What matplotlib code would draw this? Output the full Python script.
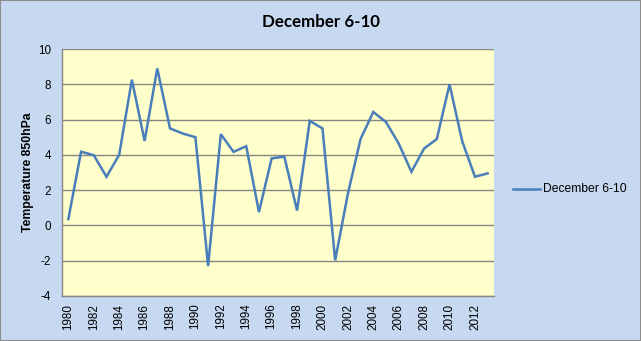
import matplotlib
matplotlib.use("Agg")
import matplotlib.pyplot as plt
from matplotlib.patches import Rectangle

years = list(range(1980, 2014))
temps = [0.36, 4.18, 3.98, 2.76, 4.0, 8.26, 4.79, 8.9, 5.5, 5.21,
         5.0, -2.3, 5.17, 4.17, 4.49, 0.76, 3.8, 3.9, 0.84, 5.92,
         5.5, -1.98, 1.8, 4.9, 6.43, 5.86, 4.64, 3.04, 4.36, 4.9,
         8.0, 4.77, 2.76, 2.95]
series_name = "December 6-10"
title = "December 6-10"
ylabel = "Temperature 850hPa"
yticks = [-4, -2, 0, 2, 4, 6, 8, 10]

W, H = 641, 341
fig = plt.figure(figsize=(W / 100, H / 100), dpi=100)
fig.patch.set_facecolor("#C6D9F1")
fig.patches.append(Rectangle((0, 0), 1, 1, transform=fig.transFigure,
                             fill=False, edgecolor="#8C8C8C", linewidth=1.5))

left, right, top, bottom = 62, 494, 49, 296
ax = fig.add_axes([left / W, 1 - bottom / H, (right - left) / W, (bottom - top) / H])
ax.set_facecolor("#FFFFCC")

x = list(range(len(years)))
ax.plot(x, temps, color="#4A7EBB", linewidth=1.8, label=series_name,
        solid_joinstyle="miter")

ax.set_xlim(-0.5, len(years) - 0.5)
ax.set_ylim(-4, 10)
ax.set_yticks(yticks)
ax.set_yticklabels([str(v) for v in yticks], fontsize=8.4, family="Liberation Sans")
ax.set_xticks(x[::2])
ax.set_xticklabels([str(y) for y in years[::2]], rotation=90, fontsize=8.4,
                   family="Liberation Sans", va="top")
ax.tick_params(axis="y", length=0, pad=8)
ax.tick_params(axis="x", length=0, pad=5.5)
ax.grid(axis="y", color="#868686", linewidth=1.0)
ax.set_axisbelow(True)
for s in ("top", "right"):
    ax.spines[s].set_visible(False)
for s in ("left", "bottom"):
    ax.spines[s].set_color("#868686")
    ax.spines[s].set_linewidth(1.0)

fig.text(0.5, 1 - 22 / H, title, ha="center", va="center", fontsize=12.2,
         fontweight="bold", family="Lato")
fig.text(28 / W, 1 - 172 / H, ylabel, ha="center", va="center", rotation=90,
         fontsize=8.8, fontweight="bold", family="Liberation Sans")

# legend entry
ly = 1 - 189 / H
fig.lines.append(plt.Line2D([513 / W, 540 / W], [ly, ly], transform=fig.transFigure,
                            color="#4A7EBB", linewidth=1.8))
fig.text(543 / W, ly, series_name, ha="left", va="center", fontsize=8.7,
         family="Liberation Sans")

fig.savefig("out.png", dpi=100, facecolor=fig.get_facecolor())
